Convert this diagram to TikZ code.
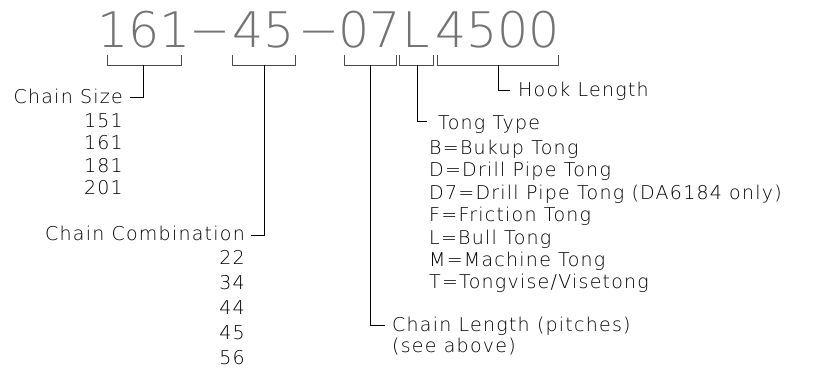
\documentclass[tikz,border=0pt]{standalone}
\usepackage{fontspec}
\usepackage{xcolor}
\usepackage{tikz}
\usetikzlibrary{positioning}
\IfFontExistsTF{DejaVuSans-ExtraLight.ttf}{%
  \newfontfamily\codefont{DejaVuSans-ExtraLight.ttf}
  \newfontfamily\notefont[LetterSpace=6.5]{DejaVuSans-ExtraLight.ttf}
}{%
  \newfontfamily\codefont{DejaVu Sans}
  \newfontfamily\notefont[LetterSpace=6.5]{DejaVu Sans}
}

\begin{document}
\begin{tikzpicture}[x=1pt, y=-1pt, node distance=4pt]
% Define styles
\tikzstyle{code} = [font=\fontsize{49}{49}\codefont, text=black!55, inner sep=0pt, anchor=base]
\tikzstyle{note} = [font=\fontsize{19}{19}\notefont, text=black, inner sep=0pt, text height=14pt, text depth=4pt]
\tikzstyle{bracket} = [draw, line width=0.8pt, black!70]
\tikzstyle{line} = [draw, line width=0.8pt]

\useasboundingbox (0,0) rectangle (815,369);

% Part number
\node [code] (size) at (144,48) {161};
\node [code] (dashA) at (210.5,48) {−};
\node [code] (combo) at (263.5,48) {45};
\node [code] (dashB) at (319.5,48) {−};
\node [code] (len) at (370,48) {07};
\node [code] (tong) at (416,48) {L};
\node [code] (hook) at (497.5,48) {4500};

% Brackets
\draw [bracket] (107,55) -- (107,65) -- (181,65) -- (181,55);
\draw [bracket] (232,55) -- (232,65) -- (295,65) -- (295,55);
\draw [bracket] (344,55) -- (344,65) -- (396,65) -- (396,55);
\draw [bracket] (399,55) -- (399,65) -- (433,65) -- (433,55);
\draw [bracket] (437,55) -- (437,65) -- (558,65) -- (558,55);
\coordinate (sizebr) at (143,65);
\coordinate (combobr) at (264,65);
\coordinate (lenbr) at (370,65);
\coordinate (tongbr) at (417,65);
\coordinate (hookbr) at (498,65);

% Chain size
\node [note, anchor=base east] (sizehead) at (123,104) {Chain Size};
\node [note, below=5pt of sizehead.south east, anchor=north east] (s151) {151};
\node [note, below=of s151.south east, anchor=north east] (s161) {161};
\node [note, below=of s161.south east, anchor=north east] (s181) {181};
\node [note, below=of s181.south east, anchor=north east] (s201) {201};

% Chain combination
\node [note, anchor=base east] (combohead) at (245,240) {Chain Combination};
\node [note, below=6.5pt of combohead.south east, anchor=north east] (c22) {22};
\node [note, below=6.5pt of c22.south east, anchor=north east] (c34) {34};
\node [note, below=6.5pt of c34.south east, anchor=north east] (c44) {44};
\node [note, below=6.5pt of c44.south east, anchor=north east] (c45) {45};
\node [note, below=6.5pt of c45.south east, anchor=north east] (c56) {56};

% Chain length
\node [note, anchor=base west] (lenhead) at (392,331) {Chain Length (pitches)};
\node [note, below=3pt of lenhead.south west, anchor=north west] (lensee) {(see above)};

% Tong type
\node [note, anchor=base west] (tonghead) at (438,130) {Tong Type};
\node [note, below=6pt of tonghead.south west, anchor=north west, xshift=-9pt] (tB) {B=Bukup Tong};
\node [note, below=of tB.south west, anchor=north west] (tD) {D=Drill Pipe Tong};
\node [note, below=of tD.south west, anchor=north west] (tD7) {D7=Drill Pipe Tong (DA6184 only)};
\node [note, below=of tD7.south west, anchor=north west] (tF) {F=Friction Tong};
\node [note, below=of tF.south west, anchor=north west] (tL) {L=Bull Tong};
\node [note, below=of tL.south west, anchor=north west] (tM) {M=Machine Tong};
\node [note, below=of tM.south west, anchor=north west] (tT) {T=Tongvise/Visetong};

% Hook length
\node [note, anchor=base west] (hookhead) at (518,97) {Hook Length};

% Leaders
\draw [line] (sizebr) |- ([xshift=7pt, yshift=2pt]sizehead.east);
\draw [line] (combobr) |- ([xshift=6pt]combohead.east);
\draw [line] (lenbr) |- ([xshift=-7pt, yshift=1pt]lenhead.west);
\draw [line] (tongbr) |- ([xshift=-11pt, yshift=4pt]tonghead.west);
\draw [line] (hookbr) |- ([xshift=-8pt, yshift=2pt]hookhead.west);
\end{tikzpicture}
\end{document}
